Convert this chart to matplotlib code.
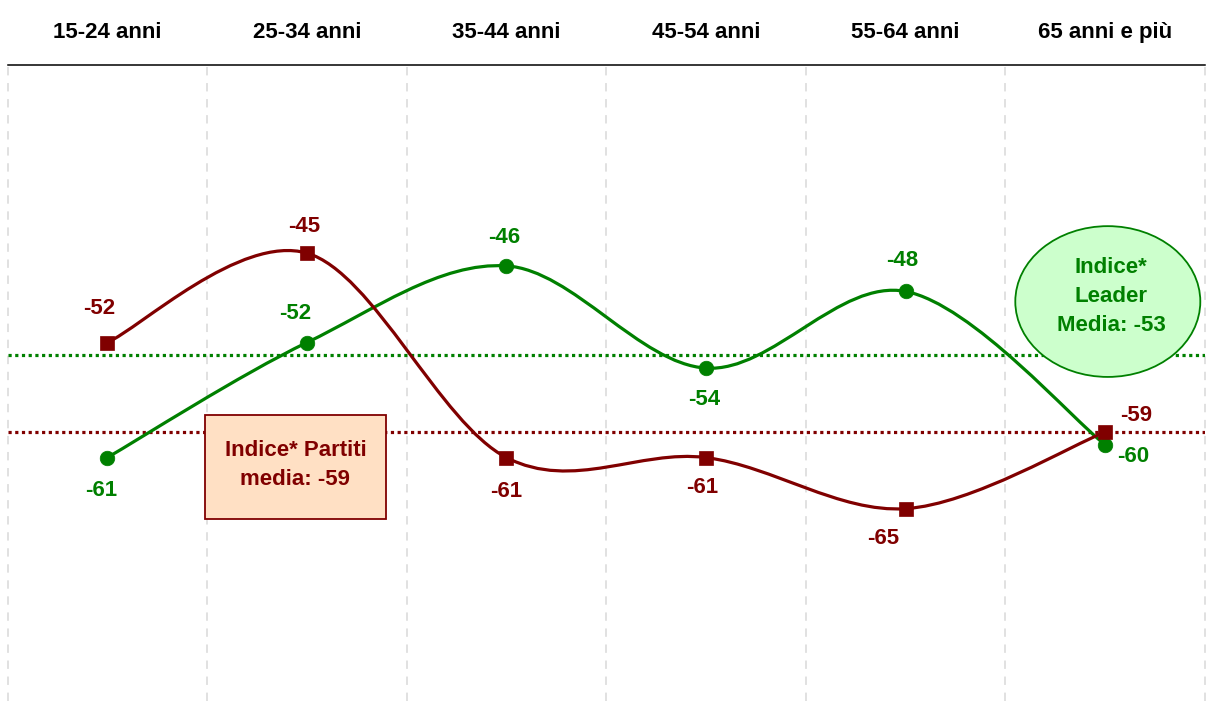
import numpy as np
import matplotlib
matplotlib.use("Agg")
import matplotlib.pyplot as plt
from matplotlib.path import Path
from matplotlib.patches import PathPatch, Ellipse, Rectangle
from matplotlib.transforms import blended_transform_factory

plt.rcParams['font.family'] = ['Liberation Sans', 'DejaVu Sans']

categories = ['15-24 anni', '25-34 anni', '35-44 anni', '45-54 anni', '55-64 anni', '65 anni e più']
partiti = [-52, -45, -61, -61, -65, -59]
leader = [-61, -52, -46, -54, -48, -60]
media_partiti = -59
media_leader = -53

RED = '#800000'
GREEN = '#008000'

# label offsets in pixels from each marker
off_partiti = [(-8, 34), (-3, 27), (0, -34), (-4, -30), (-22, -30), (31, 17)]
off_leader = [(-6, -33), (-12, 29), (-2, 28), (-2, -31), (-3, 31), (28, -12)]


def smooth_path(xs, ys):
    # cubic bezier through the points, control points from the neighbours
    pts = np.column_stack([xs, ys]).astype(float)
    n = len(pts)
    verts = [pts[0]]
    codes = [Path.MOVETO]
    for i in range(n - 1):
        p0 = pts[i - 1] if i > 0 else pts[i]
        p1 = pts[i]
        p2 = pts[i + 1]
        p3 = pts[i + 2] if i + 2 < n else pts[i + 1]
        verts += [p1 + (p2 - p0) / 6, p2 - (p3 - p1) / 6, p2]
        codes += [Path.CURVE4] * 3
    return Path(verts, codes)


fig = plt.figure(figsize=(12.23, 7.04), dpi=100)
ax = fig.add_axes([7.5 / 1223, 3 / 704, 1197.5 / 1223, 636 / 704])
ax.set_xlim(-0.5, 5.5)
ax.set_ylim(-80.05, -30.28)
ax.set_xticks([])
ax.set_yticks([])
for side in ['left', 'right', 'bottom']:
    ax.spines[side].set_visible(False)
ax.spines['top'].set_color('black')
ax.spines['top'].set_linewidth(1.1)

x = np.arange(len(categories))

# vertical separators between age groups
for b in np.arange(-0.5, len(categories)):
    ax.axvline(b, color='#d9d9d9', lw=1.1, dashes=(5.5, 5), zorder=0, clip_on=False)

# group names above the plot, on a common baseline
trans = blended_transform_factory(ax.transData, ax.transAxes)
for i, c in enumerate(categories):
    ax.annotate(c, (i, 1.0), xycoords=trans, xytext=(0, 27), textcoords='offset pixels',
                ha='center', va='baseline', fontsize=16, fontweight='bold', color='black')

# average lines
ax.axhline(media_leader, color=GREEN, lw=2.3, linestyle=(0, (1, 1.1)), zorder=1)
ax.axhline(media_partiti, color=RED, lw=2.3, linestyle=(0, (1, 1.1)), zorder=1)

# boxes with the averages
ax.add_patch(Rectangle((0.489, -65.81), 0.907, 8.14, facecolor='#ffe0c4',
                       edgecolor=RED, lw=1.3, zorder=2))
ax.text(0.943, -61.6, 'Indice* Partiti\nmedia: %d' % media_partiti, ha='center', va='center',
        fontsize=16, fontweight='bold', color=RED, linespacing=1.5, zorder=2.5)
ax.add_patch(Ellipse((5.013, -48.79), 0.927, 11.8, facecolor='#ccffcc',
                     edgecolor=GREEN, lw=1.3, zorder=2))
ax.text(5.03, -48.4, 'Indice*\nLeader\nMedia: %d' % media_leader, ha='center', va='center',
        fontsize=16, fontweight='bold', color=GREEN, linespacing=1.5, zorder=2.5)

# smoothed series
ax.add_patch(PathPatch(smooth_path(x, leader), fill=False, edgecolor=GREEN, lw=2.3, zorder=3))
ax.add_patch(PathPatch(smooth_path(x, partiti), fill=False, edgecolor=RED, lw=2.3, zorder=4))
ax.plot(x, leader, 'o', ms=10.5, color=GREEN, mew=0.5, zorder=5)
ax.plot(x, partiti, 's', ms=10.5, color=RED, mew=0.5, zorder=6)

for xi, v, o in zip(x, partiti, off_partiti):
    ax.annotate('%d' % v, (xi, v), xytext=o, textcoords='offset pixels',
                ha='center', va='center', fontsize=16, fontweight='bold', color=RED, zorder=7)
for xi, v, o in zip(x, leader, off_leader):
    ax.annotate('%d' % v, (xi, v), xytext=o, textcoords='offset pixels',
                ha='center', va='center', fontsize=16, fontweight='bold', color=GREEN, zorder=7)

fig.savefig('out.png', dpi=100, facecolor='white')
